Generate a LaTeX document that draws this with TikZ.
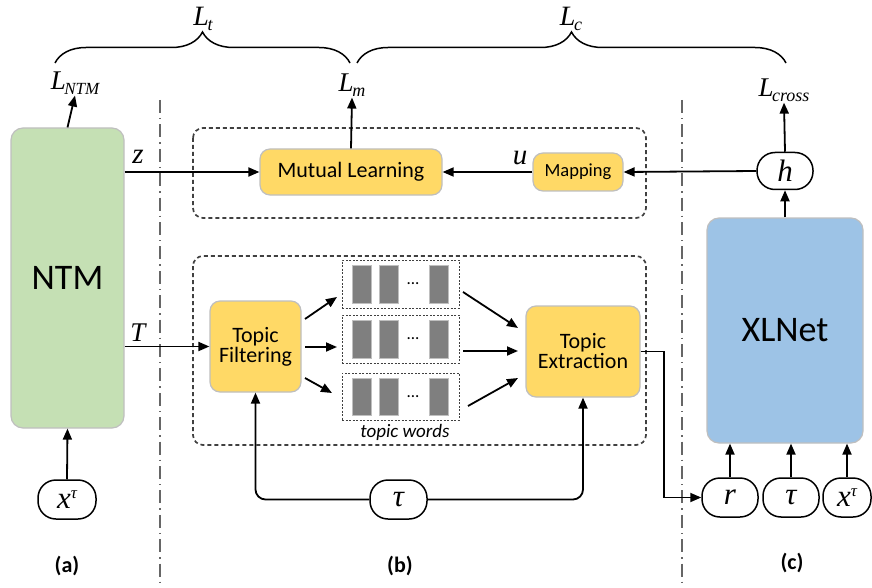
\documentclass[tikz,border=0pt]{standalone}
\usepackage{fontspec}
\setmainfont{Carlito}
\newfontfamily\tms{Liberation Serif}
\usetikzlibrary{arrows.meta,decorations.pathreplacing,calc}
\definecolor{ntmgreen}{HTML}{C5E0B4}
\definecolor{xlblue}{HTML}{9DC3E6}
\definecolor{ylw}{HTML}{FFD966}
\definecolor{bord}{HTML}{BFBFBF}
\definecolor{bargray}{HTML}{7F7F7F}
\definecolor{dgray}{HTML}{404040}
\newcommand\fsz[1]{\fontsize{#1}{#1}\selectfont}
\newcommand\mlab[3]{{\tms\itshape\fsz{#1}L\kern-1.5pt\raisebox{-5pt}{\fsz{#3}#2}}}
\begin{document}
\begin{tikzpicture}[x=1pt,y=1pt,
  arr/.style={line width=1.8pt,-{Triangle[length=11pt,width=9pt]}},
  ybox/.style={draw=bord,line width=1.2pt,fill=ylw,rounded corners=10pt,align=center,font=\fsz{22},inner sep=0pt},
  oval/.style={draw=black,line width=1.5pt,fill=white,rounded corners=18pt,inner sep=0pt,font=\tms\itshape\fsz{31}},
  dbox/.style={draw=dgray,line width=1.7pt,dash pattern=on 4pt off 3pt,rounded corners=10pt},
  twbox/.style={draw=dgray,line width=0.8pt,dash pattern=on 2pt off 1.5pt},
  bar/.style={fill=bargray,draw=bord,line width=0.7pt},
  dashdot/.style={draw=gray!80!black,line width=1.4pt,dash pattern=on 13pt off 5pt on 1.4pt off 5pt},
  secl/.style={font=\bfseries\fsz{22}},
  brc/.style={decorate,decoration={brace,amplitude=31pt},line width=1.5pt},
  lbl/.style={inner sep=1pt}
]
\useasboundingbox (0,0) rectangle (872,-588);

% section separators
\draw[dashdot] (160,-100) -- (160,-588);
\draw[dashdot] (682,-100) -- (682,-588);

% dashed boxes
\draw[dbox] (193,-128) rectangle (646,-218);
\draw[dbox] (193,-256) rectangle (646,-445);

% braces
\draw[brc] (55,-63) -- (350,-63);
\draw[brc] (357,-63) -- (786,-63);
\node[lbl] (lt) at (203,-19) {\mlab{28}{t}{18}};
\node[lbl] (lc) at (571,-19) {\mlab{28}{c}{18}};

% NTM
\node[draw=bord,line width=1.2pt,fill=ntmgreen,rounded corners=12pt,minimum width=113pt,minimum height=300pt,font=\fsz{36},inner sep=0pt] (ntm) at (67.5,-278) {NTM};
\node[lbl] (lntm) at (75,-83) {\mlab{27}{NTM}{17}};
\node[oval,minimum width=58pt,minimum height=39pt] (xa) at (67,-499.5) {x\raisebox{10pt}{\fsz{17}τ}};

% XLNet
\node[draw=bord,line width=1.2pt,fill=xlblue,rounded corners=12pt,minimum width=156pt,minimum height=225pt,font=\fsz{36},inner sep=0pt] (xl) at (785,-330.5) {XLNet};
\node[oval,minimum width=56pt,minimum height=37pt] (hh) at (785,-171) {h};
\node[lbl] (lcross) at (784,-90) {\mlab{27}{cross}{18}};
\node[oval,minimum width=56pt,minimum height=39pt] (rr) at (730,-497.5) {r};
\node[oval,minimum width=56pt,minimum height=39pt] (t2) at (791,-497.5) {τ};
\node[oval,minimum width=48pt,minimum height=39pt] (x2) at (847,-497.5) {x\raisebox{10pt}{\fsz{17}τ}};

% upper module
\node[ybox,minimum width=182pt,minimum height=46pt] (ml) at (351,-172) {Mutual Learning};
\node[ybox,minimum width=90pt,minimum height=38pt,font=\fsz{18.5}] (map) at (578,-172) {Mapping};
\node[lbl] (lm) at (352,-85) {\mlab{27}{m}{18}};
\node[lbl,font=\tms\itshape\fsz{29}] (ulab) at (520,-158) {u};
\node[lbl,font=\tms\itshape\fsz{29}] (zlab) at (138,-157) {z};

% lower module
\node[ybox,minimum width=91pt,minimum height=91pt] (tf) at (255.5,-346.5) {Topic\\[-2pt]Filtering};
\node[ybox,minimum width=114pt,minimum height=91pt] (te) at (583,-351.5) {Topic\\[-2pt]Extraction};
\node[lbl,font=\tms\itshape\fsz{27}] (tlab) at (138,-333) {T};
\foreach \nm/\yt/\yb in {tw1/260/308, tw2/315/363, tw3/373/420}{
  \node[twbox,minimum width=117pt,minimum height={\yb-\yt},inner sep=0pt] (\nm) at (400.5,{-(\yt+\yb)/2}) {};
  \draw[bar] (352,-\yt-5) rectangle (371,-\yb+5);
  \draw[bar] (379,-\yt-5) rectangle (398,-\yb+5);
  \draw[bar] (429,-\yt-5) rectangle (448,-\yb+5);
  \node[font=\fsz{17}] at (413,{-(\yt+\yb)/2}) {...};
}
\node[font=\itshape\fsz{19}] (twl) at (405,-432) {topic words};
\node[oval,minimum width=57pt,minimum height=39pt] (tb) at (398.5,-499.5) {τ};

% connectors
\draw[arr] (ntm.north) -- (lntm.south);
\draw[arr] (xa.north) -- (ntm.south);
\draw[arr] (ml.north) -- (lm.south);
\draw[arr] (hh.north) -- (lcross.south);
\draw[arr] (xl.north) -- (hh.south);
\draw[arr] (hh.west) -- (map.east);
\draw[arr] (map.west) -- (ml.east);
\draw[arr] (ntm.east |- ml.west) -- (ml.west);
\draw[arr] (ntm.east |- tf.west) -- (tf.west);
\draw[arr] (305,-319) -- (337,-297);
\draw[arr] (305,-347) -- (337,-347);
\draw[arr] (305,-378) -- (332,-393);
\draw[arr] (463,-292) -- (518,-328);
\draw[arr] (463,-351) -- (518,-351);
\draw[arr] (468,-406) -- (518,-378);
\draw[arr,rounded corners=10pt] (tb.west) -| (tf.south);
\draw[arr,rounded corners=10pt] (tb.east) -| (te.south);
\draw[arr] (te.east) -- (664,-351.5) |- (rr.west);
\draw[arr] (rr.north) -- (rr.north |- xl.south);
\draw[arr] (t2.north) -- (t2.north |- xl.south);
\draw[arr] (x2.north) -- (x2.north |- xl.south);

% section labels
\node[secl] (sa) at (67,-566) {(a)};
\node[secl] (sb) at (400,-566) {(b)};
\node[secl] (sc) at (792,-563) {(c)};
\end{tikzpicture}
\end{document}
